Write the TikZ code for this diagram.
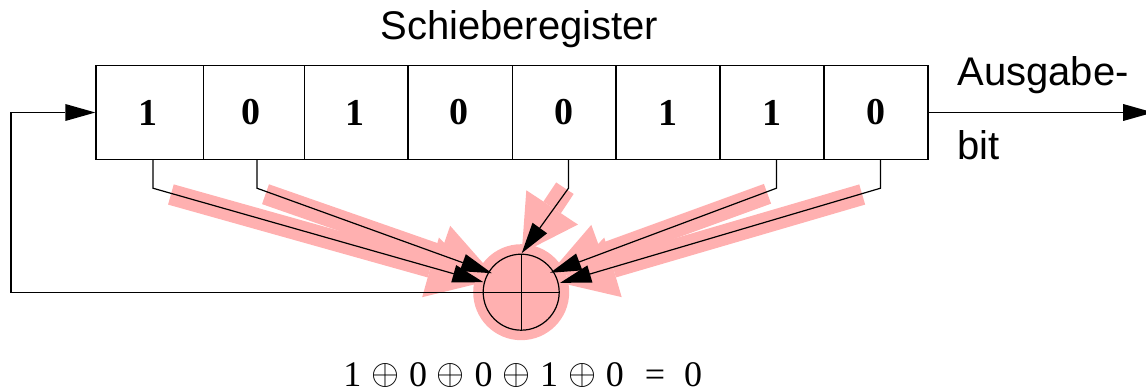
\documentclass[tikz,border=0pt]{standalone}
\usepackage{fontspec}
\usetikzlibrary{arrows.meta}
\setmainfont{Liberation Serif}
\newfontfamily\helv{Liberation Sans}
\definecolor{halo}{RGB}{255,176,176}
\newcommand{\bigxor}{\smash{\raisebox{2pt}{\scalebox{3.6}{\normalsize$\oplus$}}}}
\newcommand{\dg}[2]{\kern#1pt\raisebox{-1.5pt}{#2}}
\tikzset{
  cell/.style={draw=black,line width=1.2pt,minimum height=94pt,inner sep=0pt,font=\fontsize{38}{44}\selectfont\bfseries},
  label text/.style={anchor=base west,inner sep=0pt,font=\helv\fontsize{40}{48}\selectfont},
  formula/.style={anchor=base west,inner sep=0pt,font=\fontsize{36}{44}\selectfont},
  wire/.style={draw=black,line width=1.2pt},
  tapwire/.style={wire,-{Triangle[length=31pt,width=18pt,line width=0pt]}},
  pinkarrow/.style={draw=halo,line width=21pt,line cap=butt,-{Triangle[length=55pt,width=62pt,line width=0pt]}},
}
\begin{document}
\begin{tikzpicture}[x=1pt,y=-1pt]
\path[use as bounding box] (0,0) rectangle (1146,390);
\clip (0,0) rectangle (1146,390);
\begin{scope}[shift={(0.2,0.5)}]
% xor halo and symbol
\node[circle,fill=halo,minimum size=96pt,inner sep=0pt] (halo) at (521,291.7) {};
% tap points
\coordinate (t1) at (152.7,187.7);
\coordinate (t2) at (256.7,187.7);
\coordinate (t3) at (568.3,187.7);
\coordinate (t4) at (776.3,187.7);
\coordinate (t5) at (880.3,187.7);
% arrow ends at the circle
\coordinate (e1) at (483.3,281.7);
\coordinate (e2) at (491.7,272.7);
\coordinate (e3) at (521.5,252.7);
\coordinate (e4) at (550,272.3);
\coordinate (e5) at (560,282.3);
% pink arrow tails
\coordinate (p1) at (170.7,194);
\coordinate (p2) at (265.3,193.7);
\coordinate (p3) at (564.7,187.7);
\coordinate (p4) at (767.3,193.3);
\coordinate (p5) at (862,194);
\draw[pinkarrow] (p1) -- (e1);
\draw[pinkarrow] (p2) -- (e2);
\draw[pinkarrow] (p3) -- (e3);
\draw[pinkarrow] (p4) -- (e4);
\draw[pinkarrow] (p5) -- (e5);
\node[circle,draw=black,line width=1.2pt,minimum size=76pt,inner sep=0pt] (xorb) at (halo) {};
\draw[wire] (xorb.north) -- (xorb.south);
\draw[wire] (xorb.west) -- (xorb.east);
% register cells
\node[cell,minimum width=107.3pt] (c1) at (149.4,112) {\dg{-4}{1}};
\node[cell,minimum width=101pt] (c2) at (253.5,112) {\dg{-5}{0}};
\node[cell,minimum width=103.7pt] (c3) at (355.9,112) {\dg{-2}{1}};
\node[cell,minimum width=104.3pt] (c4) at (459.9,112) {\dg{-2}{0}};
\node[cell,minimum width=103.7pt] (c5) at (563.9,112) {\dg{0}{0}};
\node[cell,minimum width=104pt] (c6) at (667.7,112) {\dg{0}{1}};
\node[cell,minimum width=104pt] (c7) at (771.7,112) {\dg{0}{1}};
\node[cell,minimum width=104pt] (c8) at (875.7,112) {\dg{0}{0}};
% taps
\draw[tapwire] (c1.south -| t1) -- (t1) -- (e1);
\draw[tapwire] (c2.south -| t2) -- (t2) -- (e2);
\draw[tapwire] (c5.south -| t3) -- (t3) -- (e3);
\draw[tapwire] (c7.south -| t4) -- (t4) -- (e4);
\draw[tapwire] (c8.south -| t5) -- (t5) -- (e5);
% feedback and output
\coordinate (fb) at (10.7,291.7);
\coordinate (out) at (1153,112);
\draw[wire,-{Triangle[length=30pt,width=17pt,line width=0pt]}] (xorb.west) -- (fb) |- (c1.west);
\draw[wire,-{Triangle[length=30pt,width=17pt,line width=0pt]}] (c8.east) -- (out);
% texts
\node[label text] (title) at (380,39) {Schieberegister};
\node[label text] (aus) at (957,85) {Ausgabe-};
\node[label text] (bit) at (957,159) {bit};
\node[formula] (eq) at (343,385.5) {1\kern9.8pt\bigxor\kern9.8pt0\kern9.8pt\bigxor\kern9.8pt0\kern9.8pt\bigxor\kern9.8pt1\kern9.8pt\bigxor\kern9.8pt0\kern21pt=\kern19pt0};
\end{scope}
\end{tikzpicture}
\end{document}
